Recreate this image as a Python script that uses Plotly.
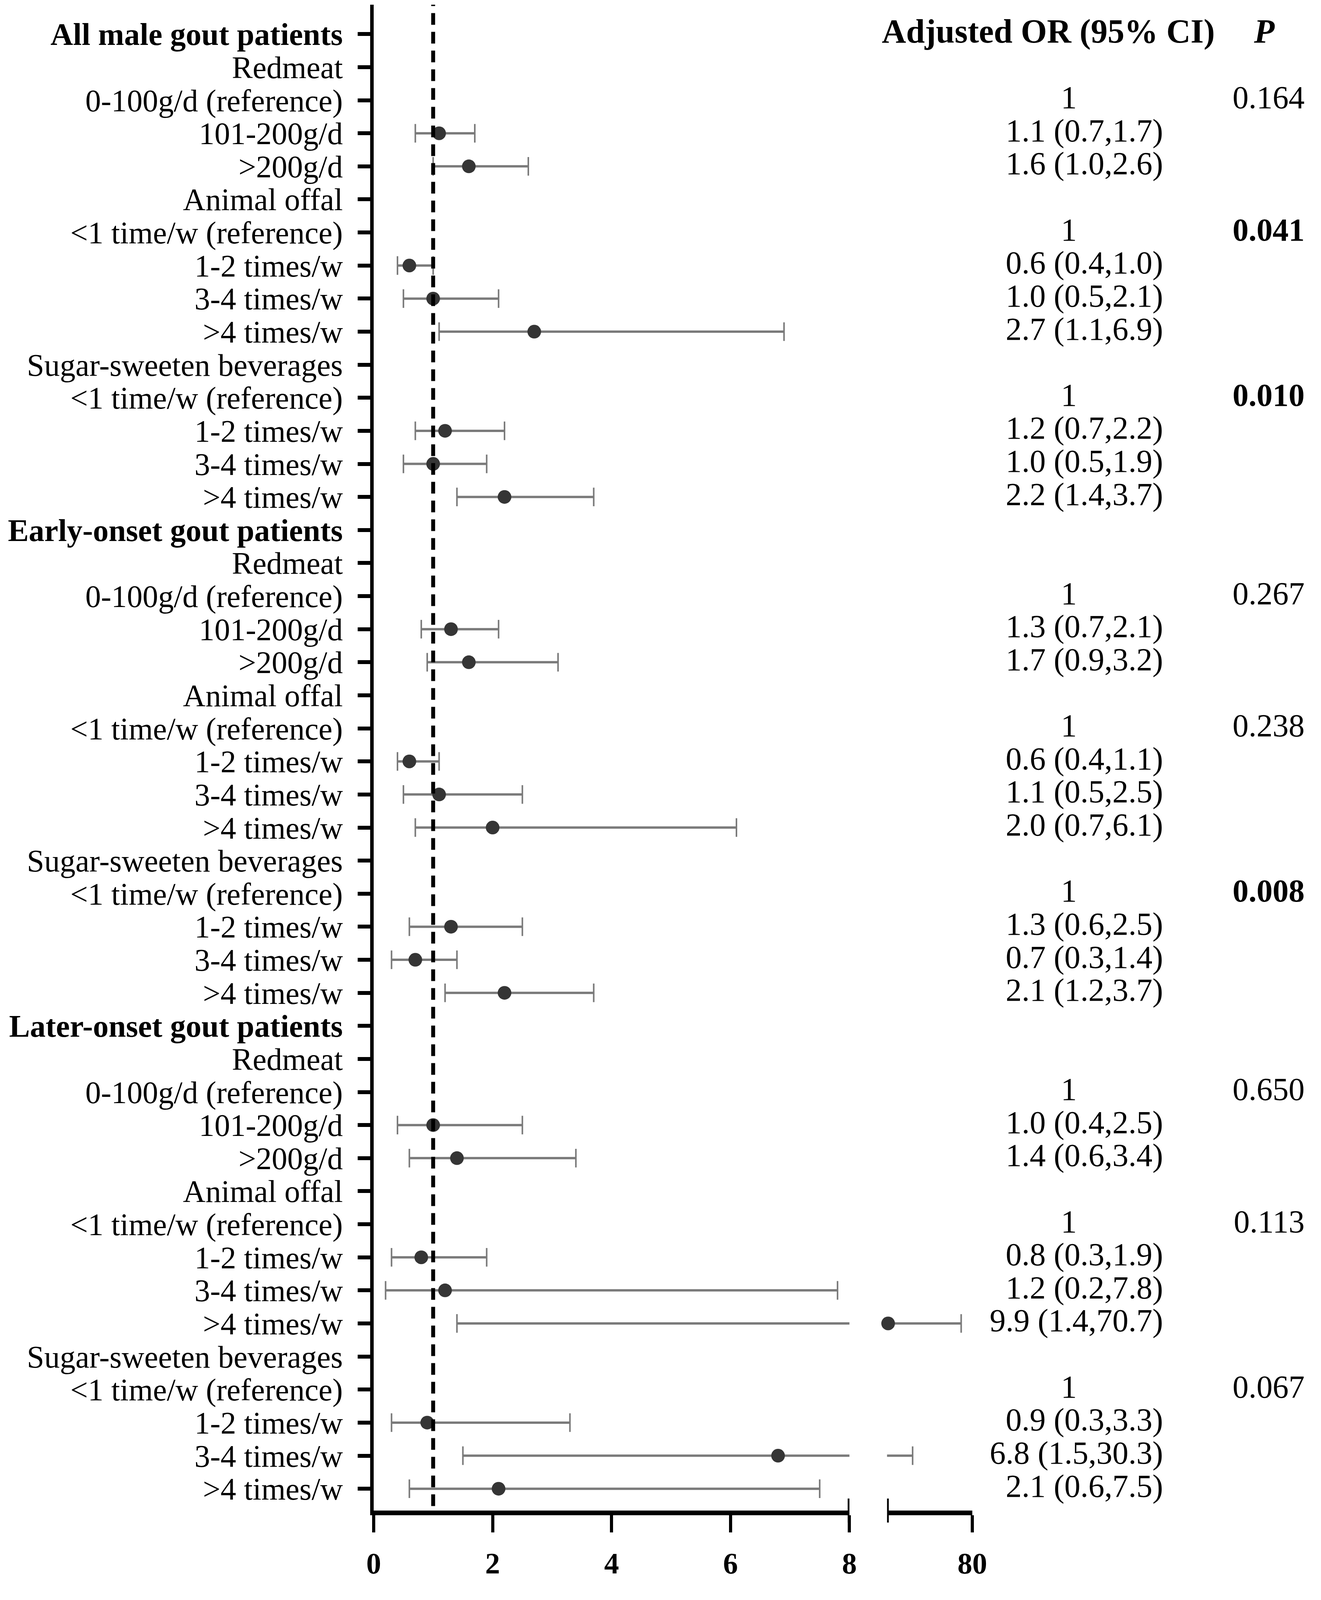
import plotly.graph_objects as go

FONT = "Liberation Serif, Times New Roman, serif"
DARK = "#353535"
GREY = "#7a7a7a"

row_labels = [
    "All male gout patients", "Redmeat", "0-100g/d (reference)", "101-200g/d", ">200g/d",
    "Animal offal", "<1 time/w (reference)", "1-2 times/w", "3-4 times/w", ">4 times/w",
    "Sugar-sweeten beverages", "<1 time/w (reference)", "1-2 times/w", "3-4 times/w", ">4 times/w",
    "Early-onset gout patients", "Redmeat", "0-100g/d (reference)", "101-200g/d", ">200g/d",
    "Animal offal", "<1 time/w (reference)", "1-2 times/w", "3-4 times/w", ">4 times/w",
    "Sugar-sweeten beverages", "<1 time/w (reference)", "1-2 times/w", "3-4 times/w", ">4 times/w",
    "Later-onset gout patients", "Redmeat", "0-100g/d (reference)", "101-200g/d", ">200g/d",
    "Animal offal", "<1 time/w (reference)", "1-2 times/w", "3-4 times/w", ">4 times/w",
    "Sugar-sweeten beverages", "<1 time/w (reference)", "1-2 times/w", "3-4 times/w", ">4 times/w",
]
group_rows = [1, 16, 31]

# plotted odds ratios and CI as drawn (None = no marker)
or_point = [None, None, None, 1.1, 1.6, None, None, 0.6, 1.0, 2.7, None, None, 1.2, 1.0, 2.2,
            None, None, None, 1.3, 1.6, None, None, 0.6, 1.1, 2.0, None, None, 1.3, 0.7, 2.2,
            None, None, None, 1.0, 1.4, None, None, 0.8, 1.2, 9.9, None, None, 0.9, 6.8, 2.1]
ci_low = [None, None, None, 0.7, 1.0, None, None, 0.4, 0.5, 1.1, None, None, 0.7, 0.5, 1.4,
          None, None, None, 0.8, 0.9, None, None, 0.4, 0.5, 0.7, None, None, 0.6, 0.3, 1.2,
          None, None, None, 0.4, 0.6, None, None, 0.3, 0.2, 1.4, None, None, 0.3, 1.5, 0.6]
ci_high = [None, None, None, 1.7, 2.6, None, None, 1.0, 2.1, 6.9, None, None, 2.2, 1.9, 3.7,
           None, None, None, 2.1, 3.1, None, None, 1.1, 2.5, 6.1, None, None, 2.5, 1.4, 3.7,
           None, None, None, 2.5, 3.4, None, None, 1.9, 7.8, 70.7, None, None, 3.3, 30.3, 7.5]

or_text = ["", "", "1", "1.1 (0.7,1.7)", "1.6 (1.0,2.6)",
           "", "1", "0.6 (0.4,1.0)", "1.0 (0.5,2.1)", "2.7 (1.1,6.9)",
           "", "1", "1.2 (0.7,2.2)", "1.0 (0.5,1.9)", "2.2 (1.4,3.7)",
           "", "", "1", "1.3 (0.7,2.1)", "1.7 (0.9,3.2)",
           "", "1", "0.6 (0.4,1.1)", "1.1 (0.5,2.5)", "2.0 (0.7,6.1)",
           "", "1", "1.3 (0.6,2.5)", "0.7 (0.3,1.4)", "2.1 (1.2,3.7)",
           "", "", "1", "1.0 (0.4,2.5)", "1.4 (0.6,3.4)",
           "", "1", "0.8 (0.3,1.9)", "1.2 (0.2,7.8)", "9.9 (1.4,70.7)",
           "", "1", "0.9 (0.3,3.3)", "6.8 (1.5,30.3)", "2.1 (0.6,7.5)"]
p_rows = [3, 7, 12, 18, 22, 27, 33, 37, 42]
p_text = ["0.164", "<b>0.041</b>", "<b>0.010</b>", "0.267", "0.238", "<b>0.008</b>",
          "0.650", "0.113", "0.067"]

x_ticks_1 = [0, 2, 4, 6, 8]
x_ticks_2 = [80]
ref_line = 1

rows = list(range(1, len(row_labels) + 1))
tick_text = ["<b>%s</b>" % t if r in group_rows else t for r, t in zip(rows, row_labels)]


def ci_segments(lo, hi):
    xs, ys = [], []
    for r, a, b in zip(rows, lo, hi):
        if a is None:
            continue
        xs += [a, b, None]
        ys += [r, r, None]
    return xs, ys


def caps(lo, hi):
    xs, ys = [], []
    for r, a, b in zip(rows, lo, hi):
        if a is None:
            continue
        xs += [a, b]
        ys += [r, r]
    return xs, ys


# page height kept to what the browser window actually shows
W, H = 3383, 4040
L, R, T, B = 949, 25, 4, 144
pw = W - L - R


def px(x):
    return (x - L) / pw


d1 = px(2176)
d2a, d2b = px(2273), px(2493)
# text columns live on a hidden axis in pixel-like units
COL_ONE, COL_CI, COL_P = 2742, 2985, 3350
HEAD_OR, HEAD_P = 2689, 3246

fig = go.Figure()
seg_x, seg_y = ci_segments(ci_low, ci_high)
cap_x, cap_y = caps(ci_low, ci_high)

# CI lines and caps, drawn on both halves of the broken axis (clipped by each)
for xa in ["x", "x2"]:
    fig.add_trace(go.Scatter(x=seg_x, y=seg_y, mode="lines", xaxis=xa, yaxis="y",
                             line=dict(color=GREY, width=6), hoverinfo="skip", showlegend=False))
    fig.add_trace(go.Scatter(x=cap_x, y=cap_y, mode="markers", xaxis=xa, yaxis="y",
                             marker=dict(symbol="line-ns", size=34, line=dict(color=GREY, width=4)),
                             hoverinfo="skip", showlegend=False))

fig.add_trace(go.Scatter(x=or_point, y=rows, mode="markers", xaxis="x", yaxis="y",
                         marker=dict(color=DARK, size=35), showlegend=False))
high_points = [v if (v is not None and v > 8) else None for v in or_point]
fig.add_trace(go.Scatter(x=high_points, y=rows, mode="markers", xaxis="x2", yaxis="y",
                         marker=dict(color=DARK, size=35), cliponaxis=False, showlegend=False))

# right-hand table text
one_rows = [r for r, t in zip(rows, or_text) if t == "1"]
ci_rows = [r for r, t in zip(rows, or_text) if t and t != "1"]
ci_strs = [t for t in or_text if t and t != "1"]
txt_font = dict(family=FONT, size=82, color="black")
fig.add_trace(go.Scatter(x=[COL_ONE] * len(one_rows), y=one_rows, mode="text", text=["1"] * len(one_rows),
                         textposition="middle center", textfont=txt_font, xaxis="x3", yaxis="y",
                         cliponaxis=False, hoverinfo="skip", showlegend=False))
fig.add_trace(go.Scatter(x=[COL_CI] * len(ci_rows), y=ci_rows, mode="text", text=ci_strs,
                         textposition="middle left", textfont=txt_font, xaxis="x3", yaxis="y",
                         cliponaxis=False, hoverinfo="skip", showlegend=False))
fig.add_trace(go.Scatter(x=[COL_P] * len(p_rows), y=p_rows, mode="text", text=p_text,
                         textposition="middle left", textfont=txt_font, xaxis="x3", yaxis="y",
                         cliponaxis=False, hoverinfo="skip", showlegend=False))
fig.add_trace(go.Scatter(x=[HEAD_OR, HEAD_P], y=[1, 1], mode="text",
                         text=["<b>Adjusted OR (95% CI)</b>", "<b><i>P</i></b>"],
                         textposition="middle center", textfont=dict(family=FONT, size=86, color="black"),
                         xaxis="x3", yaxis="y", cliponaxis=False, hoverinfo="skip", showlegend=False))

shapes = [
    dict(type="line", xref="x", yref="paper", x0=ref_line, x1=ref_line, y0=0.003, y1=1.0,
         line=dict(color="black", width=10, dash="30px,18px")),
    # axis break marks
    dict(type="line", xref="x", yref="paper", x0=8, x1=8, y0=-0.008, y1=0.008,
         line=dict(color="black", width=9)),
    dict(type="line", xref="x2", yref="paper", x0=9, x1=9, y0=-0.008, y1=0.008,
         line=dict(color="black", width=9)),
]

axis_common = dict(showgrid=False, zeroline=False, showline=True, linecolor="black", linewidth=12,
                   ticks="outside", ticklen=44, tickwidth=8, tickcolor="black",
                   tickfont=dict(family=FONT, size=76, color="black"), ticklabelstandoff=14)

fig.update_layout(
    width=W, height=H,
    margin=dict(l=L, r=R, t=T, b=B),
    paper_bgcolor="white", plot_bgcolor="white",
    font=dict(family=FONT, size=82, color="black"),
    xaxis=dict(domain=[0, d1], range=[0, 8], tickvals=x_ticks_1,
               ticktext=["<b>%d</b>" % v for v in x_ticks_1], anchor="y", **axis_common),
    xaxis2=dict(domain=[d2a, d2b], range=[9, 80], tickvals=x_ticks_2,
                ticktext=["<b>%d</b>" % v for v in x_ticks_2], anchor="y", **axis_common),
    xaxis3=dict(domain=[d2b, 1], range=[2493, W - R], visible=False, anchor="y"),
    yaxis=dict(range=[45.66, 0.11], tickvals=rows, ticktext=tick_text, showgrid=False,
               zeroline=False, showline=True, linecolor="black", linewidth=9,
               ticks="outside", ticklen=32, tickwidth=10, tickcolor="black",
               tickfont=dict(family=FONT, size=80, color="black"), ticklabelstandoff=22),
    shapes=shapes,
)

fig.write_html("out.html")
